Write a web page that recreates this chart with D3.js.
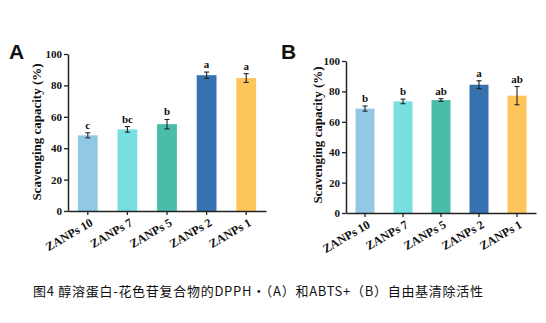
<!DOCTYPE html>
<html><head><meta charset="utf-8">
<script src="https://cdn.jsdelivr.net/npm/d3@7"></script>
<style>body{margin:0;background:#fff;}svg{display:block;}</style>
</head><body>
<svg id="c" width="546" height="323"></svg>
<script>
const categories = ["ZANPs 10","ZANPs 7","ZANPs 5","ZANPs 2","ZANPs 1"];
const colors = ["#91C9E5","#77DFDF","#4ABDAA","#3672B0","#FEC55B"];
const dpphValues = [48.2, 52.0, 55.3, 86.5, 84.7];
const dpphErrors = [1.6, 1.8, 3.0, 2.0, 2.8];
const dpphLetters = ["c","bc","b","a","a"];
const abtsValues = [68.7, 73.4, 74.3, 84.4, 77.2];
const abtsErrors = [1.7, 1.5, 0.9, 2.6, 6.0];
const abtsLetters = ["b","b","ab","a","ab"];
const yTicks = [0,20,40,60,80,100];
const yLabel = "Scavenging capacity (%)";
const caption = "图4 醇溶蛋白-花色苷复合物的DPPH·（A）和ABTS+（B）自由基清除活性";

const svg = d3.select("#c");
const serif = "'Liberation Serif','Times New Roman',serif";

function panel(opt){
  const g = svg.append("g");
  const x = d3.scaleBand().domain(categories).range([opt.x0, opt.x1]).paddingInner(0.5).paddingOuter(0.25);
  const y = d3.scaleLinear().domain([0,100]).range([opt.y0, opt.y1]);
  g.selectAll("rect.bar").data(opt.values).join("rect")
    .attr("x",(d,i)=>x(categories[i])).attr("width",x.bandwidth())
    .attr("y",d=>y(d)).attr("height",d=>y(0)-y(d))
    .attr("fill",(d,i)=>colors[i]);
  const eb = g.selectAll("g.eb").data(opt.values).join("g");
  eb.append("line")
    .attr("x1",(d,i)=>x(categories[i])+x.bandwidth()/2).attr("x2",(d,i)=>x(categories[i])+x.bandwidth()/2)
    .attr("y1",(d,i)=>y(d-opt.errors[i])).attr("y2",(d,i)=>y(d+opt.errors[i]))
    .attr("stroke","#222").attr("stroke-width",1.1);
  ["-","+"].forEach(s=>{
    eb.append("line")
      .attr("x1",(d,i)=>x(categories[i])+x.bandwidth()/2-2.5).attr("x2",(d,i)=>x(categories[i])+x.bandwidth()/2+2.5)
      .attr("y1",(d,i)=>y(s==="+"?d+opt.errors[i]:d-opt.errors[i]))
      .attr("y2",(d,i)=>y(s==="+"?d+opt.errors[i]:d-opt.errors[i]))
      .attr("stroke","#222").attr("stroke-width",1.1);
  });
  g.selectAll("text.lt").data(opt.values).join("text")
    .attr("x",(d,i)=>x(categories[i])+x.bandwidth()/2)
    .attr("y",(d,i)=>y(d+opt.errors[i])-4)
    .attr("text-anchor","middle").attr("font-family",serif).attr("font-weight","bold")
    .attr("font-size",11).attr("fill","#111").text((d,i)=>opt.letters[i]);
  const ya = g.append("g").attr("transform",`translate(${opt.x0},0)`)
    .call(d3.axisLeft(y).tickValues(yTicks).tickSize(4).tickPadding(2).tickSizeOuter(0));
  ya.select(".domain").attr("stroke","#222").attr("stroke-width",1.5);
  ya.selectAll(".tick line").attr("stroke","#222").attr("stroke-width",1.3);
  ya.selectAll(".tick text").attr("font-family",serif).attr("font-weight","bold").attr("font-size",11).attr("fill","#111");
  const xa = g.append("g").attr("transform",`translate(0,${opt.y0})`)
    .call(d3.axisBottom(x).tickSize(4).tickSizeOuter(0));
  xa.select(".domain").attr("stroke","#222").attr("stroke-width",1.5);
  xa.selectAll(".tick line").attr("stroke","#222").attr("stroke-width",1.3);
  xa.selectAll(".tick text").attr("font-family",serif).attr("font-weight","bold").attr("font-size",12).attr("fill","#111")
    .attr("text-anchor","end").attr("dy",0).attr("y",0)
    .attr("transform","translate(6,14) rotate(-30)");
  g.append("text").attr("transform",`translate(${opt.labelX},${opt.labelY}) rotate(-90)`)
    .attr("text-anchor","middle").attr("font-family",serif).attr("font-weight","bold")
    .attr("font-size",13).attr("fill","#111").text(yLabel);
  g.append("text").attr("x",opt.px).attr("y",opt.py).attr("font-family","'Liberation Sans',Arial,sans-serif")
    .attr("font-weight","bold").attr("font-size",21).attr("fill","#111").text(opt.tag);
}

panel({x0:68,x1:266,y0:211,y1:54,values:dpphValues,errors:dpphErrors,letters:dpphLetters,labelX:41,labelY:132,px:9,py:59,tag:"A"});
panel({x0:346,x1:536,y0:213,y1:61,values:abtsValues,errors:abtsErrors,letters:abtsLetters,labelX:322,labelY:135,px:281,py:59,tag:"B"});

svg.append("text").attr("x",33).attr("y",296)
  .attr("font-family","'Noto Sans CJK SC','Noto Sans',sans-serif").attr("font-size",13).attr("fill","#111")
  .attr("textLength",450).attr("lengthAdjust","spacing")
  .text(caption);
</script>
</body></html>
